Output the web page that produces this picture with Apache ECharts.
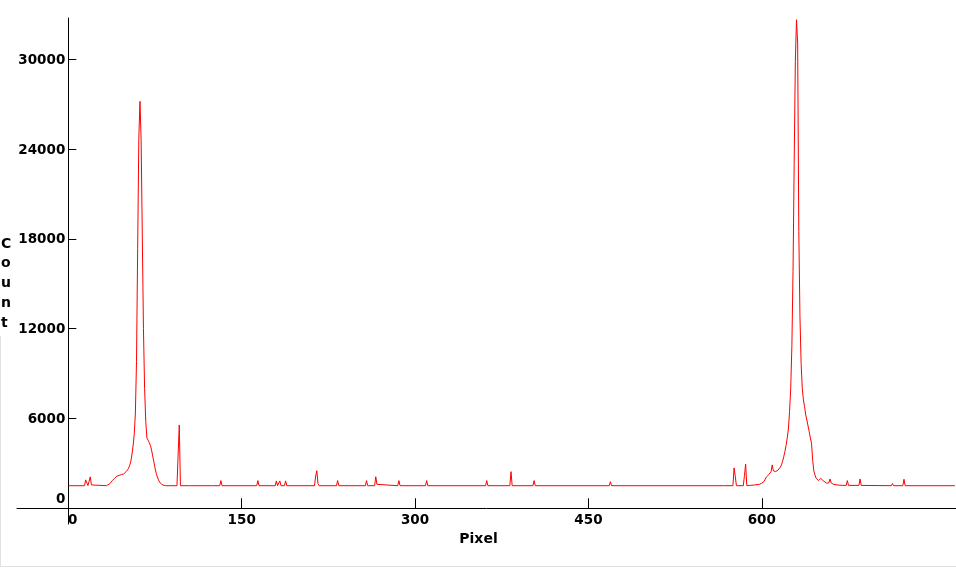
<!DOCTYPE html>
<html>
<head>
<meta charset="utf-8">
<script src="https://cdn.jsdelivr.net/npm/echarts@6/dist/echarts.min.js"></script>
<style>
  html, body { margin: 0; padding: 0; background: #fff; }
  #chart { width: 956px; height: 568px; }
</style>
</head>
<body>
<div id="chart"></div>
<script>
// ---- Data ----
const pixels = [
  0, 14, 15, 16, 17, 18, 19, 20, 21, 33, 34, 36, 38, 40, 42, 44, 46, 48, 50, 52, 53, 54,
  55, 56, 57, 58, 59, 60, 61, 62, 63, 64, 65, 66, 67, 68, 69, 70, 71, 72, 73, 74, 75, 76,
  77, 78, 79, 80, 81, 82, 84, 94, 95, 96, 97, 105, 106, 107, 123, 124, 125, 131, 132, 133,
  163, 164, 165, 179, 180, 181, 182, 183, 184, 187, 188, 189, 213, 214, 215, 216, 217,
  232, 233, 234, 257, 258, 259, 265, 266, 267, 268, 285, 286, 287, 309, 310, 311,
  361, 362, 363, 382, 383, 384, 402, 403, 404, 468, 469, 470, 566, 567, 568,
  575, 576, 577, 578, 584, 585, 586, 587, 590, 594, 598, 600, 601, 602, 603, 604, 605,
  606, 607, 608, 609, 610, 611, 612, 613, 614, 615, 616, 617, 618, 619, 620, 621, 622,
  623, 624, 625, 626, 627, 628, 629, 630, 631, 632, 633, 634, 635, 636, 637, 638, 639,
  640, 641, 642, 643, 644, 645, 646, 647, 648, 649, 650, 651, 652, 653, 654, 656, 658,
  659, 660, 662, 665, 670, 673, 674, 675, 684, 685, 686, 712, 713, 714, 722, 723, 724, 767
];
const counts = [
  1510, 1510, 1900, 1700, 1520, 1650, 2100, 1560, 1510, 1510, 1530, 1650, 1850, 2000, 2150, 2200, 2250, 2300, 2450, 2650, 2850, 3100,
  3560, 4150, 4900, 6300, 9800, 17380, 24730, 27200, 24600, 18270, 12030, 8000, 5800, 4700, 4550, 4400, 4200, 3900, 3500, 3100, 2700, 2350,
  2100, 1900, 1750, 1650, 1580, 1540, 1510, 1510, 3560, 5570, 1510, 1510, 1620, 1510, 1510, 1580, 1510, 1510, 1850, 1510,
  1510, 1850, 1510, 1510, 1830, 1510, 1520, 1830, 1510, 1510, 1830, 1510, 1510, 2160, 2510, 1650, 1510,
  1510, 1850, 1510, 1510, 1850, 1510, 1510, 2110, 1600, 1510, 1510, 1850, 1510, 1510, 1850, 1510,
  1510, 1850, 1510, 1510, 2450, 1510, 1510, 1850, 1510, 1510, 1780, 1510, 1510, 1620, 1510,
  1510, 2700, 2150, 1510, 1510, 2200, 2950, 1520, 1530, 1560, 1600, 1680, 1720, 1800, 1950, 2100, 2200,
  2250, 2350, 2450, 2900, 2500, 2400, 2450, 2500, 2550, 2650, 2750, 2900, 3150, 3450, 3800, 4200, 4700,
  5300, 6460, 8020, 10800, 15820, 23060, 29860, 32650, 31090, 18500, 12800, 9690, 8020, 7240, 6790, 6240, 5900,
  5500, 5120, 4700, 4350, 3200, 2500, 2230, 2000, 1890, 1850, 1900, 2000, 2110, 1850, 1750, 1680, 1700,
  1960, 1700, 1600, 1560, 1530, 1530, 1850, 1530, 1530, 1960, 1530, 1510, 1650, 1510, 1510, 1940, 1510, 1510
];
const xTickValues = [0, 150, 300, 450, 600];
const yTickValues = [0, 6000, 12000, 18000, 24000, 30000];
const xTitle = 'Pixel';
const yTitle = 'Count';

const seriesData = pixels.map((p, i) => [p, counts[i]]);

const FONT = 'DejaVu Sans';
const labelStyle = { color: '#000', fontFamily: FONT, fontWeight: 'bold', fontSize: 13.5 };

const chart = echarts.init(document.getElementById('chart'), null, { renderer: 'canvas' });
chart.setOption({
  animation: false,
  backgroundColor: '#ffffff',
  grid: { left: 17, right: 0, top: 18, bottom: 44, outerBoundsMode: 'none', containLabel: false },
  graphic: [
    { type: 'line', silent: true, shape: { x1: 0, y1: 566.5, x2: 956, y2: 566.5 }, style: { stroke: '#e2e2e2', lineWidth: 1 } },
    { type: 'line', silent: true, shape: { x1: 0.5, y1: 336, x2: 0.5, y2: 567 }, style: { stroke: '#e2e2e2', lineWidth: 1 } },
    { type: 'text', silent: true, left: 1, top: 234,
      style: { text: yTitle.split('').join('\n'), fill: '#000', fontFamily: FONT, fontWeight: 'bold', fontSize: 14, lineHeight: 19.75 } }
  ],
  xAxis: {
    type: 'value',
    min: -44.4,
    max: 768,
    axisLine: { onZero: true, lineStyle: { color: '#000', width: 1 } },
    axisTick: { inside: true, length: 10, customValues: xTickValues.filter(v => v !== 0), lineStyle: { color: '#000', width: 1 } },
    axisLabel: Object.assign({}, labelStyle, {
      customValues: xTickValues,
      margin: -11,
      formatter: v => (v === 0 ? '{z|0}' : String(v)),
      rich: { z: Object.assign({}, labelStyle, { padding: [0, 0, 0, 9] }) }
    }),
    splitLine: { show: false },
    name: xTitle,
    nameLocation: 'middle',
    nameGap: 8.5,
    nameTextStyle: { color: '#000', fontFamily: FONT, fontWeight: 'bold', fontSize: 14, padding: [0, 16, 0, 0] }
  },
  yAxis: {
    type: 'value',
    min: -1050,
    max: 32768,
    axisLine: { onZero: true, lineStyle: { color: '#000', width: 1 } },
    axisTick: { inside: true, length: 8, customValues: yTickValues.filter(v => v !== 0), lineStyle: { color: '#000', width: 1 } },
    axisLabel: Object.assign({}, labelStyle, {
      customValues: yTickValues,
      margin: -48.3,
      padding: [2, 0, 0, 0],
      formatter: v => (v === 0 ? '{z|0}' : String(v)),
      rich: { z: Object.assign({}, labelStyle, { padding: [2, 0, 21, 0] }) }
    }),
    splitLine: { show: false }
  },
  series: [{
    type: 'line',
    data: seriesData,
    symbol: 'none',
    showSymbol: false,
    silent: true,
    lineStyle: { color: '#ff0000', width: 1 },
    itemStyle: { color: '#ff0000' }
  }]
});
</script>
</body>
</html>
